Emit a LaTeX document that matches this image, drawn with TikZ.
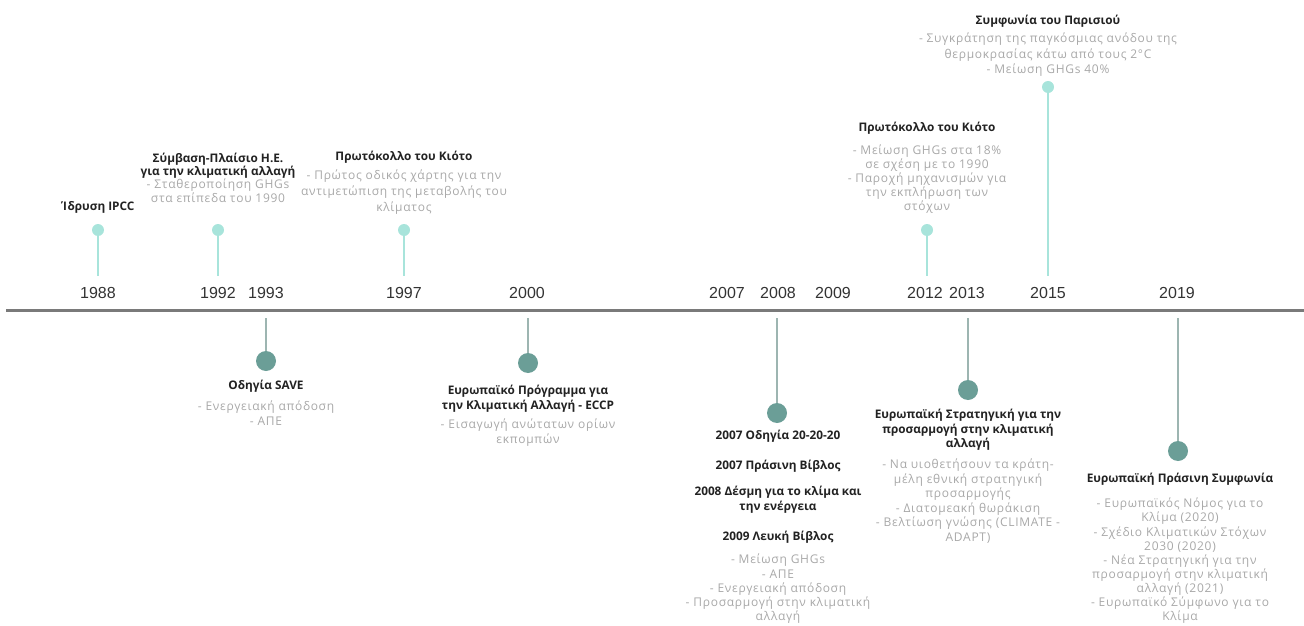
\documentclass[tikz,border=0pt]{standalone}
\usepackage{fontspec}
\setmainfont{Open Sans}
\newfontfamily\detailfont[LetterSpace=6]{Open Sans}
\newfontfamily\yearfont{Liberation Sans}
\definecolor{lightteal}{HTML}{A8E4DB}
\definecolor{darkteal}{HTML}{6B9E97}
\definecolor{stemgray}{HTML}{9DB5B1}
\definecolor{axisgray}{HTML}{7A7A7A}
\definecolor{titlecol}{HTML}{222222}
\definecolor{detailcol}{HTML}{A8A8A8}
\definecolor{yearcol}{HTML}{333333}
\tikzset{
  ttl/.style={font=\bfseries\fontsize{11.8}{14.5}\selectfont, text=titlecol, align=center, inner sep=0pt, anchor=north},
  dtl/.style={font=\detailfont\fontsize{12}{14.5}\selectfont, text=detailcol, align=center, inner sep=0pt, anchor=north},
  dtlwide/.style={dtl, font=\detailfont\fontsize{12}{15.8}\selectfont},
  yr/.style={font=\yearfont\fontsize{16}{16}\selectfont, text=yearcol, inner sep=0pt},
  topdot/.style={circle, fill=lightteal, minimum size=12pt, inner sep=0pt},
  botdot/.style={circle, fill=darkteal, minimum size=20pt, inner sep=0pt},
  topstem/.style={draw=lightteal, line width=1.3pt},
  botstem/.style={draw=stemgray, line width=1.3pt},
  axisline/.style={draw=axisgray, line width=3pt}
}
\begin{document}
\begin{tikzpicture}[x=1pt,y=-1pt]
\useasboundingbox (0,0) rectangle (1304,626);
% axis
\coordinate (axL) at (6,310);
\coordinate (axR) at (1304,310);
\draw[axisline] (axL) -- (axR);
% years
\node[yr] (y1988) at (98,293) {1988};
\node[yr] (y1992) at (218,293) {1992};
\node[yr] (y1993) at (266,293) {1993};
\node[yr] (y1997) at (404,293) {1997};
\node[yr] (y2000) at (527,293) {2000};
\node[yr] (y2007) at (727,293) {2007};
\node[yr] (y2008) at (778,293) {2008};
\node[yr] (y2009) at (833,293) {2009};
\node[yr] (y2012) at (925,293) {2012};
\node[yr] (y2013) at (967,293) {2013};
\node[yr] (y2015) at (1048,293) {2015};
\node[yr] (y2019) at (1177,293) {2019};
% top events
\node[topdot] (d1988) at (98,230) {};
\coordinate (s1988) at (98,276);
\draw[topstem] (d1988) -- (s1988);
\node[ttl, anchor=center] (t1988) at (98,207) {Ίδρυση IPCC};

\node[topdot] (d1992) at (218,230) {};
\coordinate (s1992) at (218,276);
\draw[topstem] (d1992) -- (s1992);
\node[ttl, font=\bfseries\fontsize{11.8}{13}\selectfont] (t1992) at (218,153) {Σύμβαση-Πλαίσιο Η.Ε.\\για την κλιματική αλλαγή};
\node[dtl, font=\detailfont\fontsize{12}{13.5}\selectfont] (x1992) at (218,179) {- Σταθεροποίηση GHGs\\στα επίπεδα του 1990};

\node[topdot] (d1997) at (404,230) {};
\coordinate (s1997) at (404,276);
\draw[topstem] (d1997) -- (s1997);
\node[ttl] (t1997) at (404,151) {Πρωτόκολλο του Κιότο};
\node[dtlwide] (x1997) at (404,170) {- Πρώτος οδικός χάρτης για την\\αντιμετώπιση της μεταβολής του\\κλίματος};

\node[topdot] (d2012) at (927,230) {};
\coordinate (s2012) at (927,276);
\draw[topstem] (d2012) -- (s2012);
\node[ttl] (t2012) at (927,122) {Πρωτόκολλο του Κιότο};
\node[dtl, font=\detailfont\fontsize{12}{13.9}\selectfont] (x2012) at (927,145) {- Μείωση GHGs στα 18\%\\σε σχέση με το 1990\\- Παροχή μηχανισμών για\\την εκπλήρωση των\\στόχων};

\node[topdot] (d2015) at (1048,87) {};
\coordinate (s2015) at (1048,276);
\draw[topstem] (d2015) -- (s2015);
\node[ttl] (t2015) at (1048,15) {Συμφωνία του Παρισιού};
\node[dtl, font=\detailfont\fontsize{12}{15.2}\selectfont] (x2015) at (1048,33) {- Συγκράτηση της παγκόσμιας ανόδου της\\θερμοκρασίας κάτω από τους 2°C\\- Μείωση GHGs 40\%};

% bottom events
\coordinate (s1993) at (266,318);
\node[botdot] (d1993) at (266,361) {};
\draw[botstem] (s1993) -- (d1993);
\node[ttl] (t1993) at (266,380) {Οδηγία SAVE};
\node[dtl] (x1993) at (266,401) {- Ενεργειακή απόδοση\\- ΑΠΕ};

\coordinate (s2000) at (528,318);
\node[botdot] (d2000) at (528,363) {};
\draw[botstem] (s2000) -- (d2000);
\node[ttl] (t2000) at (528,385) {Ευρωπαϊκό Πρόγραμμα για\\την Κλιματική Αλλαγή - ECCP};
\node[dtl] (x2000) at (528,419) {- Εισαγωγή ανώτατων ορίων\\εκπομπών};

\coordinate (s2008) at (777,318);
\node[botdot] (d2008) at (777,413) {};
\draw[botstem] (s2008) -- (d2008);
\node[ttl] (t2008a) at (778,430) {2007 Οδηγία 20-20-20};
\node[ttl] (t2008b) at (778,460) {2007 Πράσινη Βίβλος};
\node[ttl] (t2008c) at (778,486) {2008 Δέσμη για το κλίμα και\\την ενέργεια};
\node[ttl] (t2008d) at (778,531) {2009 Λευκή Βίβλος};
\node[dtl, font=\detailfont\fontsize{12}{14.2}\selectfont] (x2008) at (778,554) {- Μείωση GHGs\\- ΑΠΕ\\- Ενεργειακή απόδοση\\- Προσαρμογή στην κλιματική\\αλλαγή};

\coordinate (s2013) at (968,318);
\node[botdot] (d2013) at (968,390) {};
\draw[botstem] (s2013) -- (d2013);
\node[ttl] (t2013) at (968,409) {Ευρωπαϊκή Στρατηγική για την\\προσαρμογή στην κλιματική\\αλλαγή};
\node[dtl] (x2013) at (968,459) {- Να υιοθετήσουν τα κράτη-\\μέλη εθνική στρατηγική\\προσαρμογής\\- Διατομεακή θωράκιση\\- Βελτίωση γνώσης (CLIMATE -\\ADAPT)};

\coordinate (s2019) at (1178,318);
\node[botdot] (d2019) at (1178,451) {};
\draw[botstem] (s2019) -- (d2019);
\node[ttl] (t2019) at (1180,473) {Ευρωπαϊκή Πράσινη Συμφωνία};
\node[dtl, font=\detailfont\fontsize{12}{14.1}\selectfont] (x2019) at (1180,498) {- Ευρωπαϊκός Νόμος για το\\Κλίμα (2020)\\- Σχέδιο Κλιματικών Στόχων\\2030 (2020)\\- Νέα Στρατηγική για την\\προσαρμογή στην κλιματική\\αλλαγή (2021)\\- Ευρωπαϊκό Σύμφωνο για το\\Κλίμα};
\end{tikzpicture}
\end{document}
